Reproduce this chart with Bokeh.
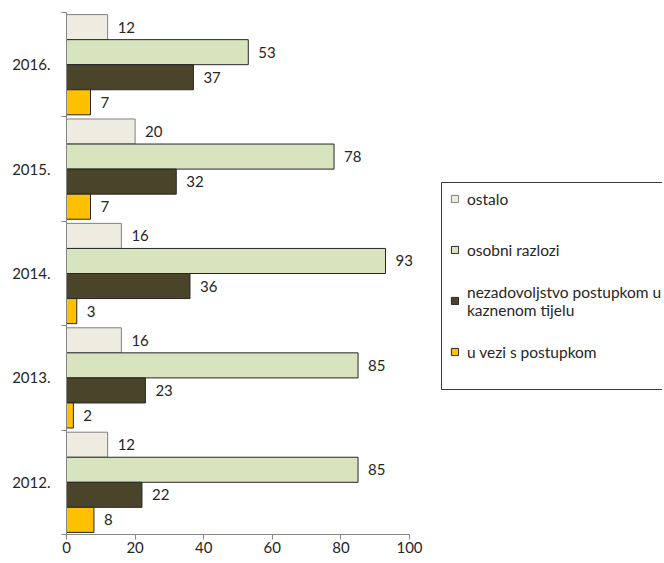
from bokeh.plotting import figure
from bokeh.models import Range1d, FixedTicker, Legend, LegendItem, ColumnDataSource
from bokeh.core.properties import value
from bokeh.embed import file_html
from bokeh.resources import INLINE

years = ["2012.", "2013.", "2014.", "2015.", "2016."]
ostalo = [12, 16, 16, 20, 12]
osobni = [85, 85, 93, 78, 53]
nezadovoljstvo = [22, 23, 36, 32, 37]
u_vezi = [8, 2, 3, 7, 7]
series_names = ["ostalo", "osobni razlozi", "nezadovoljstvo postupkom u\nkaznenom tijelu", "u vezi s postupkom"]
x_ticks = [0, 20, 40, 60, 80, 100]
x_max = 100

colors = ["#EEECE1", "#D7E4BD", "#4A452A", "#FFC000"]
outlines = ["#808080", "#262626", "#262626", "#262626"]
FONT_NAME = "Lato"
FONT = value(FONT_NAME)
FS = "15px"
TXT = "#262626"
AX = "#868686"

# layout (pixels)
W, H = 662, 561
LEFT, TOP, BOTTOM = 66, 12, 27
frame_w = W - LEFT
frame_h = H - TOP - BOTTOM
axis_px = 343  # pixel length of the 0..100 axis
x_end = x_max * frame_w / axis_px
n = len(years)

def px_x(px):
    return px * x_end / frame_w

def px_y(py):  # py pixels down from frame top
    return n - py * n / frame_h

p = figure(width=W, height=H, output_backend="svg", toolbar_location=None,
           x_range=Range1d(0, x_end), y_range=Range1d(0, n),
           min_border_left=LEFT, min_border_right=0, min_border_top=TOP,
           min_border_bottom=BOTTOM)
p.outline_line_color = None
p.xgrid.visible = False
p.ygrid.visible = False

offsets = [0.36, 0.12, -0.12, -0.36]
bar_h = 0.24
items = []
for j, (name, vals) in enumerate(zip(series_names, [ostalo, osobni, nezadovoljstvo, u_vezi])):
    ys = [i + 0.5 + offsets[j] for i in range(n)]
    src = ColumnDataSource(dict(y=ys, v=vals, lab=[str(v) for v in vals]))
    r = p.hbar(y="y", left=0, right="v", height=bar_h, source=src,
               fill_color=colors[j], line_color=outlines[j], line_width=1)
    p.text(x="v", y="y", text="lab", source=src, x_offset=10, text_baseline="middle",
           text_align="left", text_font=FONT, text_font_size=FS, text_color=TXT)
    items.append(LegendItem(label=name, renderers=[r]))

# y axis
ya = p.yaxis[0]
ya.ticker = FixedTicker(ticks=[i + 0.5 for i in range(n)], minor_ticks=list(range(n + 1)))
ya.major_label_overrides = {i + 0.5: y for i, y in enumerate(years)}
ya.major_tick_out = 0
ya.major_tick_in = 0
ya.minor_tick_out = 5
ya.minor_tick_in = 0
ya.axis_line_color = AX
ya.minor_tick_line_color = AX
ya.major_label_standoff = 11
ya.major_label_text_font = FONT_NAME
ya.major_label_text_font_size = FS
ya.major_label_text_color = TXT

xa = p.xaxis[0]
xa.ticker = FixedTicker(ticks=x_ticks)
xa.bounds = (0, x_max)
xa.major_tick_out = 5
xa.major_tick_in = 0
xa.minor_tick_line_color = None
xa.axis_line_color = AX
xa.major_tick_line_color = AX
xa.major_label_standoff = 2
xa.major_label_text_font = FONT_NAME
xa.major_label_text_font_size = FS
xa.major_label_text_color = TXT

# legend frame: left, top and bottom sides (the right side runs off the picture)
bl, br, bt, bb = px_x(375), px_x(375 + 260), px_y(170), px_y(377)
p.segment(x0=[bl, bl, bl], y0=[bt, bt, bb], x1=[br, bl, br], y1=[bt, bb, bb],
          line_color="#3a3a3a", line_width=1)

legend = Legend(items=items, location=(384, 163), glyph_width=9, glyph_height=9,
                label_standoff=8, padding=0, spacing=12, label_height=39,
                label_text_font=FONT_NAME, label_text_font_size="15.5px",
                label_text_color=TXT, border_line_color=None, margin=0,
                background_fill_alpha=0.0)
p.add_layout(legend, "center")

open("out.html", "w").write(file_html(p, INLINE))
